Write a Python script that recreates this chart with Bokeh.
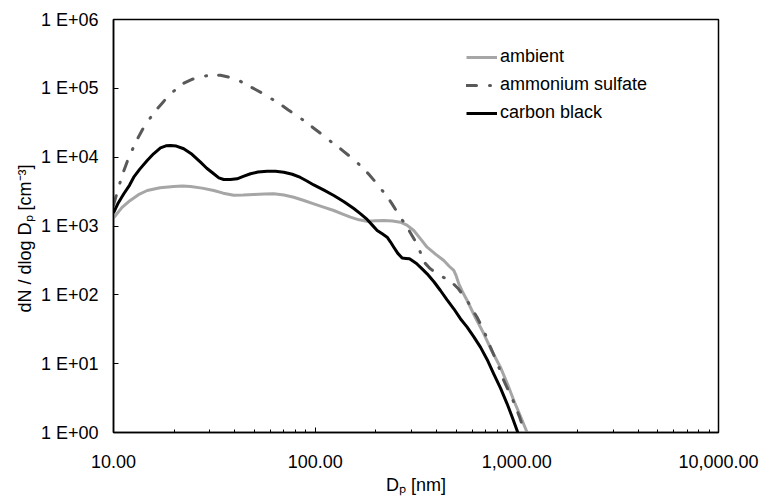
from bokeh.plotting import figure
from bokeh.models import FixedTicker, Range1d, Legend, LegendItem, Title
from bokeh.embed import file_html
from bokeh.resources import INLINE

# ---- data ----
ambient_dp = [10, 11, 12.1, 13.3, 14.7, 17, 19.9, 22, 24.1, 27.5, 31.4, 35, 39.5, 44, 49.6, 56,
              62.4, 70, 78.3, 88, 98.4, 110, 123.7, 136, 149.6, 165, 181, 200, 218.8, 242, 264.8,
              285, 308.3, 333, 359, 395, 434.3, 462, 486.7, 500, 515, 540, 567, 620, 685, 750,
              829, 900, 966, 1040, 1125, 1208]
ambient_n = [1300, 1850, 2350, 2850, 3280, 3600, 3750, 3800, 3750, 3550, 3280, 3000, 2800, 2820,
             2870, 2920, 2940, 2820, 2620, 2350, 2100, 1880, 1680, 1500, 1343, 1230, 1175, 1195,
             1202, 1180, 1136, 1030, 860, 650, 492, 390, 315, 260, 226, 190, 146, 108, 82.7, 48,
             27.4, 15.5, 8.89, 5.0, 2.92, 1.75, 1.0, 0.65]

sulfate_dp = [10, 10.5, 11.04, 11.91, 13.1, 14.13, 15.2, 16.47, 17.6, 18.8, 20.5, 22.3, 24.5,
              27.0, 30.0, 33.9, 37.5, 41.8, 46, 50.6, 55.5, 60.7, 67, 73.3, 80, 87.8, 95.5,
              104.2, 113, 123.7, 135, 146.8, 158, 171, 185, 199, 213, 227.5, 241, 255, 270,
              285.8, 302, 320.5, 334, 348.3, 372, 402.6, 435, 468.5, 490, 513, 540, 567, 600,
              635, 690, 740, 800, 861, 915, 966, 1030, 1091, 1142]
sulfate_n = [2000, 3300, 5420, 10000, 18070, 27290, 37000, 50470, 63000, 78700, 98000, 118800,
             135000, 148600, 154000, 155300, 145000, 130000, 112000, 96200, 83000, 70500, 59000,
             48970, 41000, 34120, 28200, 23220, 19200, 15640, 12900, 10570, 8800, 7150, 5600,
             4360, 3400, 2685, 2080, 1588, 1230, 961, 730, 539, 400, 295, 240, 202, 178, 156,
             140, 122.4, 100, 82.7, 62, 47.3, 29, 17.4, 10.2, 5.70, 3.9, 2.76, 1.7, 1.03, 0.715]

carbon_dp = [10, 10.5, 11.25, 12.0, 12.6, 13.5, 14.69, 15.8, 17.1, 18.2, 19.17, 20.5, 22.3,
             24.5, 27.0, 29.0, 31.4, 33.3, 35.2, 38.0, 41.0, 44.0, 47.8, 52.0, 57.8, 63.5, 69.9,
             77.0, 84.5, 91.0, 98.4, 110, 123.7, 139, 155.4, 168, 181, 192, 203, 215, 227.5,
             236, 245.4, 257, 270, 282, 293.5, 305, 318, 338, 359, 388, 418, 450, 486.7, 525,
             567, 612, 660, 712, 768, 830, 895, 950, 1003, 1042]
carbon_n = [1550, 2100, 2940, 3900, 5120, 6700, 8950, 11200, 13680, 14600, 14790, 14500, 13240,
            11000, 8450, 6900, 5740, 5000, 4740, 4720, 4850, 5250, 5740, 6080, 6260, 6230, 6050,
            5650, 5070, 4510, 3950, 3340, 2775, 2250, 1796, 1500, 1244, 1030, 860, 770, 688,
            590, 492, 400, 343, 338, 334, 310, 285, 240, 202, 155, 115.6, 85, 62.7, 45, 33.9,
            24.5, 17.4, 11.5, 7.13, 4.4, 2.61, 1.65, 1.07, 0.765]

series_names = ["ambient", "ammonium sulfate", "carbon black"]

x_ticks = [10, 100, 1000, 10000]
x_tick_labels = ["10.00", "100.00", "1,000.00", "10,000.00"]
y_ticks = [1, 10, 100, 1000, 10000, 100000, 1000000]
y_tick_labels = ["1 E+00", "1 E+01", "1 E+02", "1 E+03", "1 E+04", "1 E+05", "1 E+06"]
x_title = "Dₚ [nm]"
y_title = "dN / dlog Dₚ [cm⁻³]"

FONT = "Liberation Sans"
FS = "18px"

p = figure(width=762, height=500, x_axis_type="log", y_axis_type="log",
           x_range=Range1d(10, 10000), y_range=Range1d(1, 1e6),
           output_backend="svg", toolbar_location=None,
           min_border_left=113, min_border_right=44, min_border_top=19, min_border_bottom=68)

p.background_fill_color = "white"
p.border_fill_color = "white"
p.outline_line_color = "black"
p.outline_line_width = 1.5
p.xgrid.grid_line_color = None
p.ygrid.grid_line_color = None

minor = [m * d for d in [10, 100, 1000] for m in range(2, 10)]
p.xaxis.ticker = FixedTicker(ticks=x_ticks, minor_ticks=minor)
p.yaxis.ticker = FixedTicker(ticks=y_ticks, minor_ticks=[])
p.xaxis.major_label_overrides = {t: l for t, l in zip(x_ticks, x_tick_labels)}
p.yaxis.major_label_overrides = {t: l for t, l in zip(y_ticks, y_tick_labels)}

for ax in (p.xaxis, p.yaxis):
    ax.axis_line_color = "black"
    ax.axis_line_width = 1.5
    ax.major_tick_line_color = "black"
    ax.major_tick_in = 5
    ax.major_tick_out = 0
    ax.minor_tick_in = 3
    ax.minor_tick_out = 0
    ax.major_label_text_font = FONT
    ax.major_label_text_font_size = FS
    ax.major_label_text_color = "black"
    ax.axis_label_text_font = FONT
    ax.axis_label_text_font_size = FS
    ax.axis_label_text_font_style = "normal"
    ax.axis_label_text_color = "black"

p.yaxis.minor_tick_line_color = None
p.xaxis.minor_tick_line_color = "black"
p.xaxis.major_label_standoff = 22
p.yaxis.major_label_standoff = 15
p.xaxis.axis_label = x_title
p.xaxis.axis_label_standoff = 4

# y title as a side title, starting a bit lower like the reference
p.add_layout(Title(text=y_title, align="left", offset=120, standoff=6,
                   text_font=FONT, text_font_size=FS, text_font_style="normal",
                   text_color="black"), "left")

r_amb = p.line(ambient_dp, ambient_n, line_color="#A6A6A6", line_width=3, line_join="round")
r_sul = p.line(sulfate_dp, sulfate_n, line_color="#595959", line_width=3, line_join="round",
               line_cap="round", line_dash="10 13 1 12")
r_car = p.line(carbon_dp, carbon_n, line_color="black", line_width=3, line_join="round")

legend = Legend(items=[LegendItem(label=series_names[0], renderers=[r_amb]),
                       LegendItem(label=series_names[1], renderers=[r_sul]),
                       LegendItem(label=series_names[2], renderers=[r_car])],
                location=(353, 309), orientation="vertical")
legend.border_line_color = None
legend.background_fill_alpha = 0
legend.padding = 0
legend.margin = 0
legend.spacing = 7
legend.glyph_width = 31
legend.glyph_height = 20
legend.label_height = 20
legend.label_standoff = 3
legend.label_text_font = FONT
legend.label_text_font_size = FS
legend.label_text_color = "black"
p.add_layout(legend)

open("out.html", "w").write(file_html(p, INLINE))
